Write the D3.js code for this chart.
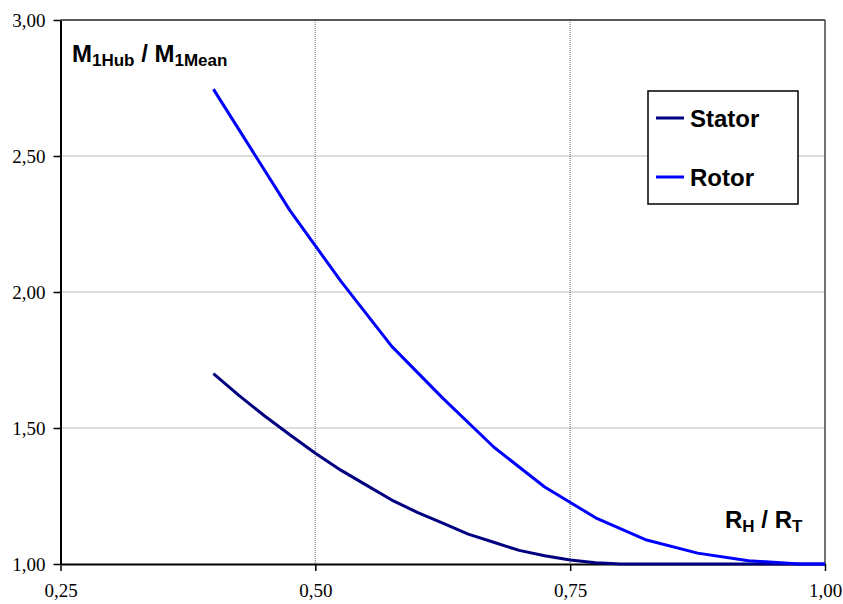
<!DOCTYPE html>
<html>
<head>
<meta charset="utf-8">
<script src="https://cdn.jsdelivr.net/npm/d3@7"></script>
<style>
  body { margin: 0; background: #fff; }
  svg { display: block; }
</style>
</head>
<body>
<svg id="chart" width="843" height="604"></svg>
<script>
// hub/tip ratio values
const statorX = [0.40, 0.425, 0.45, 0.475, 0.50, 0.525, 0.55, 0.575, 0.60, 0.625, 0.65, 0.675, 0.70, 0.725, 0.75, 0.775, 0.80, 0.85, 0.90, 0.95, 1.00];
const statorY = [1.70, 1.62, 1.545, 1.475, 1.407, 1.345, 1.29, 1.235, 1.19, 1.15, 1.11, 1.08, 1.05, 1.03, 1.015, 1.005, 1.0, 1.0, 1.0, 1.0, 1.0];
const rotorX = [0.40, 0.475, 0.525, 0.575, 0.625, 0.675, 0.725, 0.775, 0.825, 0.875, 0.925, 0.975, 1.00];
const rotorY = [2.746, 2.30, 2.04, 1.80, 1.61, 1.43, 1.283, 1.17, 1.088, 1.04, 1.012, 1.0, 1.0];
const xTicks = [0.25, 0.50, 0.75, 1.00];
const yTicks = [1.00, 1.50, 2.00, 2.50, 3.00];
const seriesNames = ['Stator', 'Rotor'];
const seriesColors = ['#000080', '#0000ff'];

const svg = d3.select('#chart');
const plotLeft = 60.5, plotRight = 825, plotTop = 20, plotBottom = 564;
const serif = "'Liberation Serif', 'Times New Roman', 'DejaVu Serif', serif";
const sans = "'Liberation Sans', Arial, sans-serif";

const x = d3.scaleLinear().domain([0.25, 1.0]).range([plotLeft, plotRight]);
const y = d3.scaleLinear().domain([1.0, 3.0]).range([plotBottom, plotTop]);
const fmt = v => d3.format('.2f')(v).replace('.', ',');

// gridlines
svg.append('g').selectAll('line')
  .data(yTicks.slice(1, -1))
  .join('line')
  .attr('x1', plotLeft).attr('x2', plotRight)
  .attr('y1', d => y(d)).attr('y2', d => y(d))
  .attr('stroke', '#777').attr('stroke-width', 1)
  .attr('stroke-dasharray', '1,1');

svg.append('g').selectAll('line')
  .data(xTicks.slice(1, -1))
  .join('line')
  .attr('x1', d => x(d)).attr('x2', d => x(d))
  .attr('y1', plotTop).attr('y2', plotBottom)
  .attr('stroke', '#999').attr('stroke-width', 1.5)
  .attr('stroke-dasharray', '1,1');

// plot frame top/right
svg.append('line').attr('x1', plotLeft).attr('x2', plotRight).attr('y1', plotTop).attr('y2', plotTop)
  .attr('stroke', '#222').attr('stroke-width', 1.5);
svg.append('line').attr('x1', plotRight).attr('x2', plotRight).attr('y1', plotTop).attr('y2', plotBottom)
  .attr('stroke', '#444').attr('stroke-width', 1.5);

// axes
const xAxis = svg.append('g')
  .attr('transform', `translate(0,${plotBottom})`)
  .call(d3.axisBottom(x).tickValues(xTicks).tickFormat(fmt).tickSize(7).tickSizeOuter(0));
const yAxis = svg.append('g')
  .attr('transform', `translate(${plotLeft},0)`)
  .call(d3.axisLeft(y).tickValues(yTicks).tickFormat(fmt).tickSize(7).tickSizeOuter(0));

[xAxis, yAxis].forEach(g => {
  g.attr('font-family', serif).attr('font-size', 19);
  g.select('.domain').attr('stroke', '#000').attr('stroke-width', 2);
  g.selectAll('.tick line').attr('stroke', '#000').attr('stroke-width', 1.5);
  g.selectAll('text')
    .style('font-family', serif)
    .style('font-size', '19px')
    .attr('fill', '#000');
});
xAxis.selectAll('text').attr('y', 33).attr('dy', null);
yAxis.selectAll('text').attr('x', -15).attr('dy', '0.32em');

// curves
const line = d3.line().x(d => x(d[0])).y(d => y(d[1]));
const series = [
  d3.zip(statorX, statorY),
  d3.zip(rotorX, rotorY)
];
series.forEach((pts, i) => {
  svg.append('path')
    .datum(pts)
    .attr('d', line)
    .attr('fill', 'none')
    .attr('stroke', seriesColors[i])
    .attr('stroke-width', 3)
    .attr('stroke-linejoin', 'round');
});

// axis titles
function subTitle(px, py, parts) {
  const t = svg.append('text')
    .attr('x', px).attr('y', py)
    .style('font-family', sans).style('font-weight', 'bold')
    .style('font-size', '24px').attr('fill', '#000');
  parts.forEach(([txt, sub]) => {
    t.append('tspan').text(txt)
      .style('font-size', sub ? '17px' : '24px')
      .attr('dy', sub ? 4 : -4);
  });
  t.select('tspan').attr('dy', null);
  return t;
}
subTitle(72, 62, [['M', false], ['1Hub', true], [' / M', false], ['1Mean', true]]);
subTitle(725, 528, [['R', false], ['H', true], [' / R', false], ['T', true]]);

// legend
const legend = svg.append('g').attr('transform', 'translate(648,91)');
legend.append('rect')
  .attr('x', 0).attr('y', 0).attr('width', 150).attr('height', 113)
  .attr('fill', '#fff').attr('stroke', '#000').attr('stroke-width', 1.5);
seriesNames.forEach((name, i) => {
  const ly = 27 + i * 59;
  legend.append('line')
    .attr('x1', 8).attr('x2', 36).attr('y1', ly).attr('y2', ly)
    .attr('stroke', seriesColors[i]).attr('stroke-width', 3);
  legend.append('text')
    .attr('x', 42).attr('y', ly + 9)
    .style('font-family', sans).style('font-weight', 'bold')
    .style('font-size', '24px').attr('fill', '#000')
    .text(name);
});
</script>
</body>
</html>
